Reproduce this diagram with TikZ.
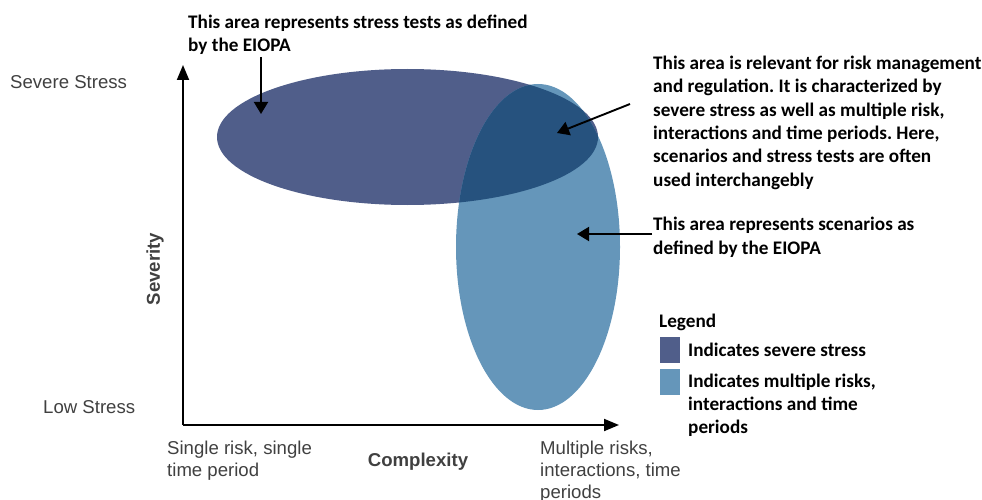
\documentclass[tikz,border=0pt]{standalone}
\usepackage{fontspec}
\setmainfont{Carlito}
\newfontfamily\arialfont{Liberation Sans}
\usetikzlibrary{arrows.meta}
\frenchspacing
\definecolor{darkblue}{RGB}{80,94,138}
\definecolor{lightblue}{RGB}{101,150,186}
\definecolor{overlapblue}{RGB}{38,82,126}
\definecolor{labelgray}{RGB}{64,64,64}
\tikzset{
  note/.style={anchor=base west, inner sep=0pt, align=left, font=\fontsize{19.2}{23.3}\selectfont\bfseries, text=black},
  axislabel/.style={inner sep=0pt, align=left, font=\arialfont\fontsize{18.6}{22}\selectfont, text=labelgray},
  pointer/.style={line width=1.9pt, -{Triangle[length=12pt,width=14pt]}},
  axisline/.style={line width=1.9pt, -{Triangle[length=15pt,width=12pt]}},
  legendbox/.style={minimum width=20pt, minimum height=26pt, inner sep=0pt, anchor=north west}
}
\begin{document}
\begin{tikzpicture}[x=1pt,y=-1pt]
\useasboundingbox (0,0) rectangle (982,500);
% ellipses
\fill[darkblue] (407.5,137) ellipse [x radius=190.5, y radius=68];
\fill[lightblue] (538,247) ellipse [x radius=82, y radius=163];
\begin{scope}
  \clip (407.5,137) ellipse [x radius=190.5, y radius=68];
  \fill[overlapblue] (538,247) ellipse [x radius=82, y radius=163];
\end{scope}
% axes
\coordinate (origin) at (183,425);
\coordinate (ytip) at (183,65);
\coordinate (xtip) at (619,425);
\draw[axisline] (origin) -- (ytip);
\draw[axisline] (origin) -- (xtip);
% axis labels (base = last line)
\node[axislabel, anchor=base west] (severe) at (10,88.5) {Severe Stress};
\node[axislabel, anchor=base west] (low) at (43,413) {Low Stress};
\node[axislabel, rotate=90, font=\arialfont\fontsize{18.6}{22}\selectfont\bfseries] (severity) at (155,269) {Severity};
\node[axislabel, anchor=base west] (single) at (167,476) {Single risk, single\\time period};
\node[axislabel, anchor=base, font=\arialfont\fontsize{18.6}{22}\selectfont\bfseries] (complexity) at (418,466.5) {Complexity};
\node[axislabel, anchor=base west] (multiple) at (540,498) {Multiple risks,\\interactions, time\\periods};
% annotations (base = last line)
\node[note] (n1) at (188,51.5) {This area represents stress tests as defined\\by the EIOPA};
\node[note] (n2) at (653,186) {This area is relevant for risk management\\and regulation. It is characterized by\\severe stress as well as multiple risk,\\interactions and time periods. Here,\\scenarios and stress tests are often\\used interchangebly};
\node[note] (n3) at (653,254) {This area represents scenarios as\\defined by the EIOPA};
% pointers
\coordinate (p1s) at (261,57);
\coordinate (p1e) at (261,114);
\coordinate (p2s) at (630,104);
\coordinate (p2e) at (557,133);
\coordinate (p3s) at (652,234);
\coordinate (p3e) at (577,234);
\draw[pointer] (p1s) -- (p1e);
\draw[pointer] (p2s) -- (p2e);
\draw[pointer] (p3s) -- (p3e);
% legend
\node[note] (legtitle) at (659,327) {Legend};
\node[legendbox, fill=darkblue] (lb1) at (660,337) {};
\node[legendbox, fill=lightblue] (lb2) at (660,369) {};
\node[note] (lt1) at (688,356) {Indicates severe stress};
\node[note] (lt2) at (688,433.6) {Indicates multiple risks,\\interactions and time\\periods};
\end{tikzpicture}
\end{document}
